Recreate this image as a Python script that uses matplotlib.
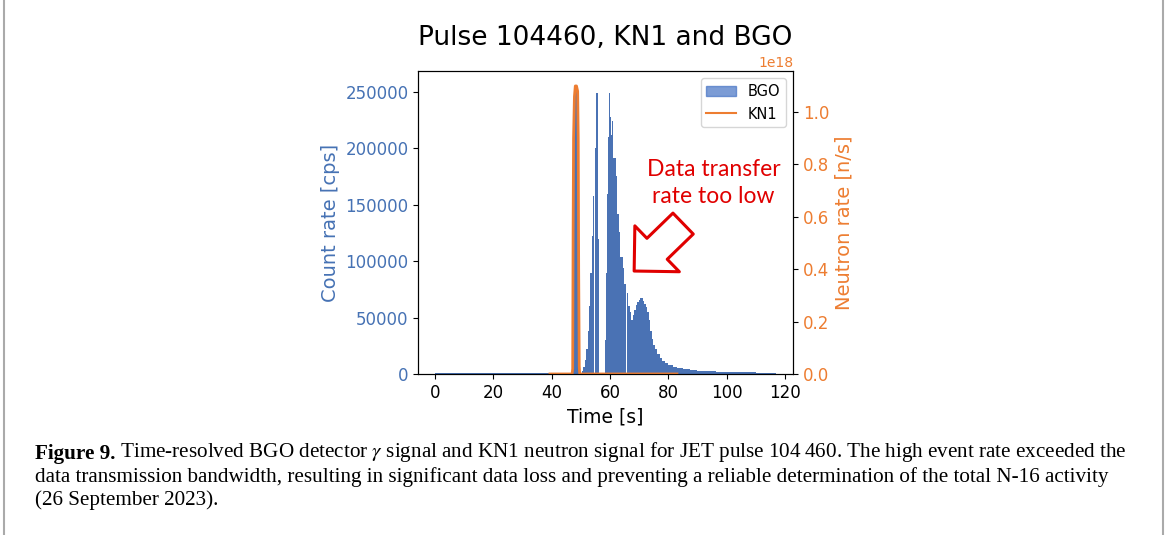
import numpy as np
import matplotlib
matplotlib.use('Agg')
import matplotlib.pyplot as plt
from matplotlib.patches import Patch
from matplotlib.lines import Line2D

plt.rcParams['mathtext.fontset'] = 'stix'

# BGO count rate [cps], piecewise constant between bin edges [s]
bgo_edges = [0, 47.2, 47.6, 48.0, 48.4, 48.8, 49.2, 49.6, 50.3, 50.8, 51.3,
             51.8, 52.3, 52.8, 53.3, 53.8, 54.2, 54.6, 55.0, 55.3, 55.9,
             56.2, 58.4, 58.7, 59.0, 59.3, 59.6, 60.1, 60.4, 60.7, 60.85,
             61.2, 61.9, 62.05, 62.4, 63.0, 63.15, 63.5, 64.3, 64.45, 64.8,
             65.6, 65.75, 66.1, 66.8, 66.95, 67.3, 67.8, 68.3, 68.8, 69.3,
             69.8, 70.3, 70.8, 71.3, 71.8, 72.3, 72.8, 73.3, 73.8, 74.3,
             74.8, 75.3, 76.0, 77.0, 78.0, 79.0, 80.0, 81.5, 83.0, 85.0,
             87.5, 90.0, 93.0, 96.5, 100.0, 105.0, 110.0, 117.0]
bgo_rate = [800, 174000, 243000, 256000, 250000, 214000, 40000, 0, 2500, 6000,
            12000, 22000, 38000, 60000, 90000, 122000, 158000, 0, 200000, 249000,
            120000, 0, 30000, 90000, 160000, 210000, 249000, 228000, 212000, 0,
            224000, 192000, 0, 176000, 142000, 0, 126000, 104000, 0, 94000,
            80000, 0, 72000, 60000, 0, 55000, 48000, 52000, 57000, 61000,
            64000, 66000, 67500, 67000, 64500, 62500, 59000, 55000, 48000, 38000,
            31000, 26000, 22000, 17500, 14000, 11500, 9500, 7800, 6300, 5000,
            4000, 3200, 2700, 2200, 1900, 1600, 1400, 1200]

# KN1 neutron rate [n/s]
kn1_t = [39.4, 47.0, 47.2, 47.35, 47.5, 47.8, 48.1, 48.5, 48.9, 49.1, 49.25,
         49.45, 49.6, 83.0]
kn1_rate = np.array([0, 0, 0.02, 0.55, 0.90, 1.06, 1.10, 1.10, 1.08, 0.90,
                     0.40, 0.03, 0, 0]) * 1e18

blue = '#4472C4'
orange = '#ED7D31'

fig = plt.figure(figsize=(11.68, 5.35), dpi=100)
ax = fig.add_axes([0.358, 0.301, 0.321, 0.566])
ax2 = ax.twinx()

ax.stairs(bgo_rate, bgo_edges, fill=True, color='#4a72b4')
ax2.plot(kn1_t, kn1_rate, color=orange, lw=2)

ax.set_xlim(-5.85, 122.85)
ax.set_ylim(0, 268600)
ax2.set_ylim(0, 1.1565e18)
ax.set_xticks([0, 20, 40, 60, 80, 100, 120])
ax.set_yticks([0, 50000, 100000, 150000, 200000, 250000])
ax2.set_yticks([0, 0.2e18, 0.4e18, 0.6e18, 0.8e18, 1.0e18])

ax.tick_params(axis='both', labelsize=12)
ax.tick_params(axis='y', labelcolor='#4672B4')
ax2.tick_params(axis='y', labelsize=12, labelcolor=orange)
ax2.yaxis.get_offset_text().set_color(orange)
ax2.yaxis.get_offset_text().set_fontsize(10)

ax.set_xlabel('Time [s]', fontsize=13.5)
ax.set_ylabel('Count rate [cps]', fontsize=14, color='#4672B4')
ax2.set_ylabel('Neutron rate [n/s]', fontsize=14, color=orange)
ax.set_title('Pulse 104460, KN1 and BGO', fontsize=19, pad=8)

handles = [Patch(facecolor=blue, alpha=0.7, edgecolor=blue, label='BGO'),
           Line2D([], [], color=orange, lw=1.5, label='KN1')]
ax2.legend(handles=handles, loc='upper right', fontsize=10.5)

# annotation
ax2.text(95.6, 0.73e18, 'Data transfer\nrate too low', color='#e00000',
         fontsize=16.5, family='Lato', ha='center', va='center', linespacing=1.35)
ax.annotate('', xy=(68.3, 91300), xytext=(85.1, 133400),
            arrowprops=dict(arrowstyle='simple,head_length=23,head_width=46,tail_width=21',
                            mutation_scale=1, fc='white', ec='#e00000', lw=2.2,
                            shrinkA=0, shrinkB=0))

# caption
cap = dict(fontsize=15.2, family='Liberation Serif', va='bottom')
t1 = fig.text(0.030, 0.133, 'Figure 9.', weight='bold', **cap)
ax.annotate(' Time-resolved BGO detector $\\gamma$ signal and KN1 neutron signal for JET pulse 104\u2009460. The high event rate exceeded the',
            xy=(1, 0), xycoords=t1, annotation_clip=False, **cap)
fig.text(0.030, 0.090, 'data transmission bandwidth, resulting in significant data loss and preventing a reliable determination of the total N-16 activity', **cap)
fig.text(0.030, 0.047, '(26 September 2023).', **cap)

# page borders
fig.add_artist(Line2D([0.003, 0.003], [0, 1], color='#aaaaaa', lw=1.5))
fig.add_artist(Line2D([0.996, 0.996], [0, 1], color='#aaaaaa', lw=1.5))

fig.savefig('out.png', dpi=100)
